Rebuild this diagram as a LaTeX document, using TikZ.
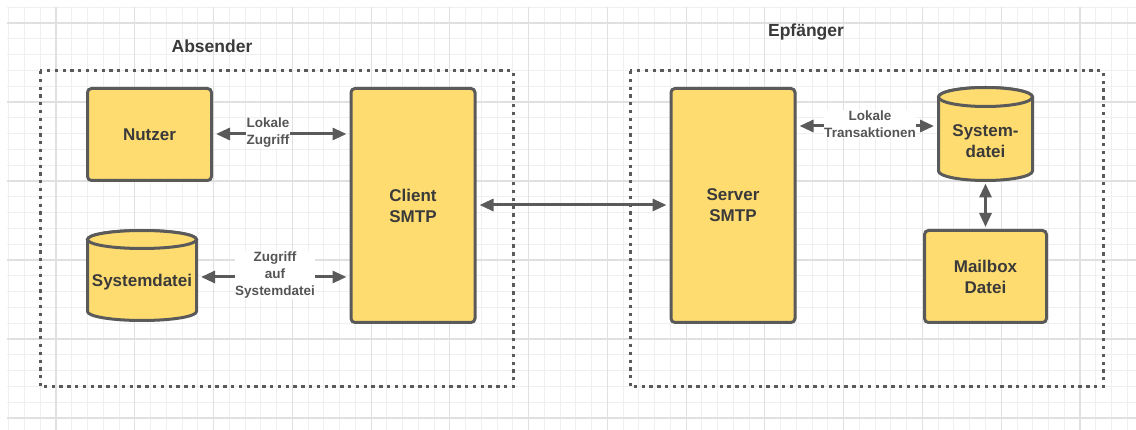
\documentclass[tikz,border=0pt]{standalone}
\usepackage{fontspec}
\setmainfont{Liberation Sans}
\usetikzlibrary{arrows.meta,calc}
\definecolor{boxfill}{HTML}{FFDC70}
\definecolor{edgecol}{HTML}{5A5A5A}
\definecolor{txtcol}{HTML}{3A3A3A}
\definecolor{lblcol}{HTML}{555555}
\definecolor{gmin}{HTML}{EFEFEF}
\definecolor{gmaj}{HTML}{E0E0E0}
\tikzset{
  ybox/.style={draw=edgecol, line width=3pt, fill=boxfill, rounded corners=4pt,
    inner sep=0pt, outer sep=0pt, font=\fontsize{17}{21}\selectfont\bfseries,
    text=txtcol, align=center},
  cylst/.style={draw=edgecol, line width=3pt, fill=boxfill},
  anchorbox/.style={draw=none, inner sep=0pt, outer sep=0pt},
  boxtext/.style={font=\fontsize{17}{21}\selectfont\bfseries, text=txtcol, align=center, inner sep=0pt},
  grp/.style={draw=edgecol, line width=3pt, dash pattern=on 3.3pt off 4.5pt},
  grptitle/.style={font=\fontsize{17.5}{21}\selectfont\bfseries, text=txtcol, anchor=base, inner sep=0pt},
  conn/.style={draw=edgecol, line width=3pt, {Triangle[length=14pt,width=12pt]}-{Triangle[length=14pt,width=12pt]}, shorten <=4.5pt, shorten >=4.5pt},
  elabel/.style={font=\fontsize{13.5}{17}\selectfont\bfseries, text=lblcol, align=center, fill=white, inner sep=0.5pt}
}
\begin{document}
\begin{tikzpicture}[x=1pt,y=-1pt]
\useasboundingbox (0,0) rectangle (1136,430);
\fill[white] (0,0) rectangle (1136,430);
% grid
\foreach \i in {-3,...,68} { \draw[gmin, line width=1pt] ({56+15.754*\i},7) -- ({56+15.754*\i},430); }
\foreach \j in {-1,...,25} { \draw[gmin, line width=1pt] (7,{23+15.8*\j}) -- (1136,{23+15.8*\j}); }
\foreach \i in {0,...,13} { \draw[gmaj, line width=1.1pt] ({56+78.77*\i},7) -- ({56+78.77*\i},430); }
\foreach \j in {0,...,5} { \draw[gmaj, line width=1.1pt] (7,{23+79*\j}) -- (1136,{23+79*\j}); }

% groups
\draw[grp] (40,71) rectangle (513,387);
\draw[grp] (630,71) rectangle (1103,387);
\node[grptitle] (tAbs) at (212,52.5) {Absender};
\node[grptitle] (tEpf) at (806,36.5) {Epfänger};

% boxes
\node[ybox, minimum width=124pt, minimum height=92pt] (nutzer) at (149.5,134.5) {Nutzer};
\node[ybox, minimum width=124pt, minimum height=234pt] (client) at (413,205.5) {Client\\SMTP};
\node[ybox, minimum width=124pt, minimum height=234pt] (server) at (733,205.5) {Server\\SMTP};
\node[ybox, minimum width=122pt, minimum height=92pt] (mailbox) at (985.5,276.5) {Mailbox\\Datei};

% cylinder left
\filldraw[cylst] (87.5,239.5) -- (87.5,311.5) arc[start angle=180,end angle=0,x radius=54.5,y radius=9] -- (196.5,239.5) arc[start angle=0,end angle=-180,x radius=54.5,y radius=9] -- cycle;
\draw[cylst] (142,239.5) ellipse [x radius=54.5, y radius=9];
\node[anchorbox, minimum width=109pt, minimum height=90pt] (sys1) at (142,275.5) {};
\node[boxtext] (sys1t) at (142,282) {Systemdatei};

% cylinder right
\filldraw[cylst] (938.5,97) -- (938.5,171) arc[start angle=180,end angle=0,x radius=47,y radius=9.5] -- (1032.5,97) arc[start angle=0,end angle=-180,x radius=47,y radius=9.5] -- cycle;
\draw[cylst] (985.5,97) ellipse [x radius=47, y radius=9.5];
\node[anchorbox, minimum width=94pt, minimum height=93pt] (sys2) at (985.5,134) {};
\node[boxtext] (sys2t) at (985.5,141) {System-\\datei};

% connectors
\coordinate (yA) at (0,134);
\coordinate (yB) at (0,277);
\coordinate (yC) at (0,205);
\coordinate (yD) at (0,126);
\draw[conn] (nutzer.east |- yA) -- (client.west |- yA);
\draw[conn] (sys1.east |- yB) -- (client.west |- yB);
\draw[conn] (client.east |- yC) -- (server.west |- yC);
\draw[conn] (server.east |- yD) -- (sys2.west |- yD);
\draw[conn, shorten <=3pt, shorten >=3.5pt] (sys2.south) -- (mailbox.north);

% connector labels
\node[elabel] (l1) at (268,133) {Lokale\\Zugriff};
\node[elabel] (l2) at (275,275) {Zugriff\\auf\\Systemdatei};
\node[elabel] (l3) at (870,124) {Lokale\\Transaktionen};
\end{tikzpicture}
\end{document}
